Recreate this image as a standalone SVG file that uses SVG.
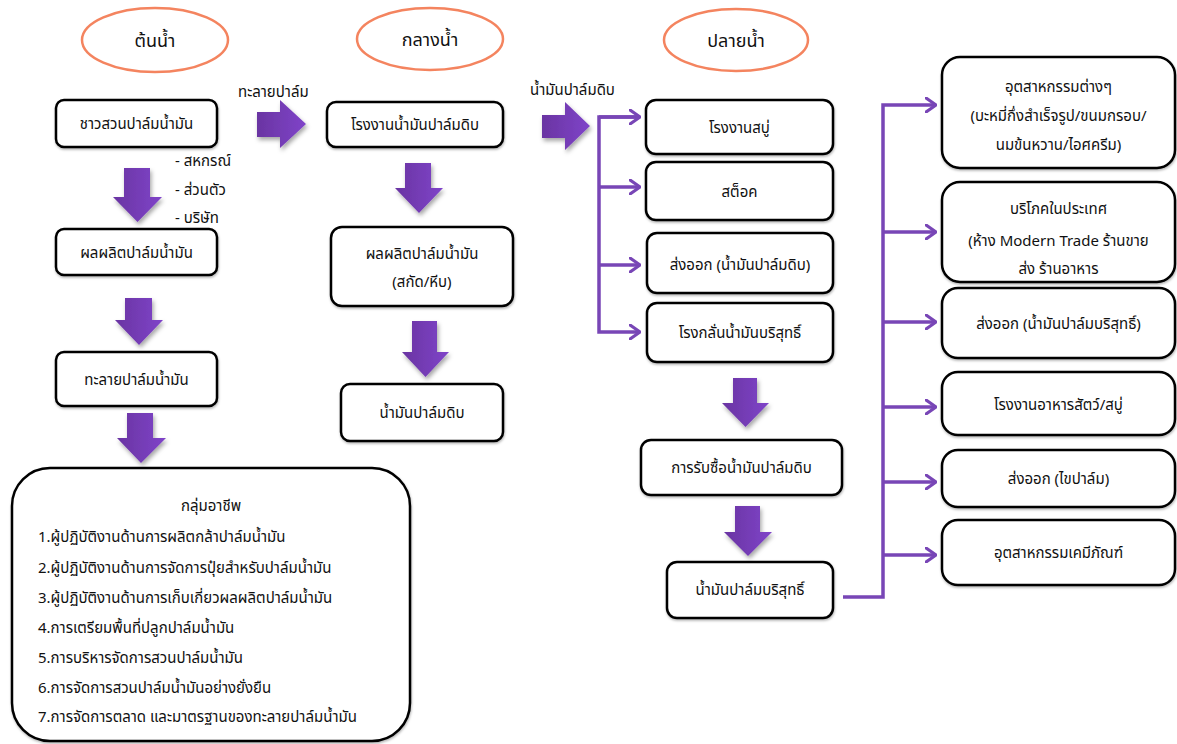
<svg xmlns="http://www.w3.org/2000/svg" width="1177" height="744" viewBox="0 0 1177 744">
<defs>
<linearGradient id="pg" x1="0" y1="0" x2="1" y2="0">
<stop offset="0" stop-color="#6a34a2"/>
<stop offset="1" stop-color="#7f44c9"/>
</linearGradient>
<filter id="sh" x="-30%" y="-30%" width="160%" height="160%">
<feDropShadow dx="1.5" dy="3" stdDeviation="2" flood-color="#000" flood-opacity="0.35"/>
</filter>
<filter id="bs" x="-10%" y="-10%" width="120%" height="130%">
<feDropShadow dx="0.5" dy="1.5" stdDeviation="1" flood-color="#000" flood-opacity="0.3"/>
</filter>
<marker id="ah" viewBox="0 0 12 16" refX="11" refY="8" markerWidth="12" markerHeight="16" markerUnits="userSpaceOnUse" orient="auto">
<path d="M1 1 L11 8 L1 15" fill="none" stroke="#7846b6" stroke-width="3.2" stroke-linecap="round" stroke-linejoin="round"/>
</marker>
</defs>
<style>
text{font-family:Tahoma,"Noto Sans Thai","Noto Sans","DejaVu Sans",sans-serif;fill:#111;font-size:15px}
.t{text-anchor:middle}
.h{font-size:18px;text-anchor:middle}
.ell{fill:#fff;stroke:#f4845f;stroke-width:2.5}
.box{fill:#fff;stroke:#000;stroke-width:2.5;filter:url(#bs)}
.arr{fill:url(#pg);filter:url(#sh)}
.con{fill:none;stroke:#7846b6;stroke-width:3.5;stroke-linejoin:miter}
</style>
<rect width="1177" height="744" fill="#fff"/>

<g id="h1"><ellipse class="ell" cx="155" cy="40" rx="73" ry="32"/><text class="h" x="155" y="47">ต้นน้ำ</text></g>
<g id="h2"><ellipse class="ell" cx="430" cy="39" rx="73" ry="31"/><text class="h" x="430" y="46">กลางน้ำ</text></g>
<g id="h3"><ellipse class="ell" cx="736" cy="40" rx="72" ry="31"/><text class="h" x="736" y="47">ปลายน้ำ</text></g>

<g id="thick-arrows">
<polygon class="arr" points="124,168 150,168 150,197 162,197 137.5,222 113,197 124,197"/>
<polygon class="arr" points="125,298 152,298 152,320 163,320 139,345 115,320 125,320"/>
<polygon class="arr" points="127,413 153,413 153,438 166,438 141,463 117,438 127,438"/>
<polygon class="arr" points="257,112 280,112 280,100 306,124 280,148 280,137 257,137"/>
<polygon class="arr" points="542,115 565,115 565,102 590,126 565,150 565,138 542,138"/>
<polygon class="arr" points="405,163 431,163 431,188 443,188 419,213 395,188 405,188"/>
<polygon class="arr" points="412,321 437,321 437,352 449,352 425.5,377 402,352 412,352"/>
<polygon class="arr" points="733,378 757,378 757,403 769,403 745.5,427 722,403 733,403"/>
<polygon class="arr" points="735,506 760,506 760,532 772,532 748,556 724,532 735,532"/>
</g>

<g id="connectors">
<path class="con" d="M640 117 H599 V332 H640" marker-end="url(#ah)"/>
<path class="con" d="M599 117 H640" marker-end="url(#ah)"/>
<path class="con" d="M599 187 H640" marker-end="url(#ah)"/>
<path class="con" d="M599 265 H640" marker-end="url(#ah)"/>
<path class="con" d="M843 597 H883 V105 H936" marker-end="url(#ah)"/>
<path class="con" d="M883 232 H936" marker-end="url(#ah)"/>
<path class="con" d="M883 322 H936" marker-end="url(#ah)"/>
<path class="con" d="M883 407 H936" marker-end="url(#ah)"/>
<path class="con" d="M883 482 H936" marker-end="url(#ah)"/>
<path class="con" d="M883 555 H936" marker-end="url(#ah)"/>
</g>

<g id="lbl-tl"><text x="238" y="97">ทะลายปาล์ม</text></g>
<g id="lbl-nm"><text x="530" y="95">น้ำมันปาล์มดิบ</text></g>
<g id="lbl-types">
<text x="175" y="166">- สหกรณ์</text>
<text x="175" y="195">- ส่วนตัว</text>
<text x="175" y="223">- บริษัท</text>
</g>

<g id="n-farmer"><rect class="box" x="56" y="100" width="161" height="47" rx="8"/><text class="t" x="136.5" y="129">ชาวสวนปาล์มน้ำมัน</text></g>
<g id="n-product"><rect class="box" x="56" y="229" width="161" height="46" rx="8"/><text class="t" x="136.5" y="258">ผลผลิตปาล์มน้ำมัน</text></g>
<g id="n-bunch"><rect class="box" x="56" y="352" width="161" height="54" rx="8"/><text class="t" x="136.5" y="385">ทะลายปาล์มน้ำมัน</text></g>
<g id="n-career"><rect class="box" x="12" y="468" width="398" height="273" rx="38"/>
<text class="t" x="211" y="511">กลุ่มอาชีพ</text>
<text x="38" y="542">1.ผู้ปฏิบัติงานด้านการผลิตกล้าปาล์มน้ำมัน</text>
<text x="38" y="573">2.ผู้ปฏิบัติงานด้านการจัดการปุ๋ยสำหรับปาล์มน้ำมัน</text>
<text x="38" y="603">3.ผู้ปฏิบัติงานด้านการเก็บเกี่ยวผลผลิตปาล์มน้ำมัน</text>
<text x="38" y="633">4.การเตรียมพื้นที่ปลูกปาล์มน้ำมัน</text>
<text x="38" y="663">5.การบริหารจัดการสวนปาล์มน้ำมัน</text>
<text x="38" y="693">6.การจัดการสวนปาล์มน้ำมันอย่างยั่งยืน</text>
<text x="38" y="722">7.การจัดการตลาด และมาตรฐานของทะลายปาล์มน้ำมัน</text>
</g>

<g id="n-mill"><rect class="box" x="327" y="102" width="176" height="45" rx="9"/><text class="t" x="415" y="130">โรงงานน้ำมันปาล์มดิบ</text></g>
<g id="n-extract"><rect class="box" x="331" y="227" width="182" height="79" rx="11"/><text class="t" x="422" y="259">ผลผลิตปาล์มน้ำมัน</text><text class="t" x="422" y="287">(สกัด/หีบ)</text></g>
<g id="n-cpo"><rect class="box" x="341" y="384" width="162" height="57" rx="9"/><text class="t" x="422" y="418">น้ำมันปาล์มดิบ</text></g>

<g id="n-soap"><rect class="box" x="646" y="100" width="187" height="54" rx="10"/><text class="t" x="739.5" y="133">โรงงานสบู่</text></g>
<g id="n-stock"><rect class="box" x="646" y="162" width="187" height="58" rx="10"/><text class="t" x="739.5" y="197">สต็อค</text></g>
<g id="n-export-cpo"><rect class="box" x="647" y="233" width="186" height="60" rx="10"/><text class="t" x="740" y="270">ส่งออก (น้ำมันปาล์มดิบ)</text></g>
<g id="n-refinery"><rect class="box" x="647" y="303" width="186" height="59" rx="10"/><text class="t" x="740" y="338">โรงกลั่นน้ำมันบริสุทธิ์</text></g>
<g id="n-buy"><rect class="box" x="641" y="440" width="201" height="55" rx="10"/><text class="t" x="741.5" y="473">การรับซื้อน้ำมันปาล์มดิบ</text></g>
<g id="n-pure"><rect class="box" x="667" y="562" width="166" height="56" rx="10"/><text class="t" x="750" y="595">น้ำมันปาล์มบริสุทธิ์</text></g>

<g id="n-ind"><rect class="box" x="942" y="57" width="233" height="111" rx="18"/>
<text class="t" x="1058.5" y="92">อุตสาหกรรมต่างๆ</text>
<text class="t" x="1058.5" y="121">(บะหมี่กึ่งสำเร็จรูป/ขนมกรอบ/</text>
<text class="t" x="1058.5" y="150">นมข้นหวาน/ไอศครีม)</text></g>
<g id="n-dom"><rect class="box" x="942" y="182" width="233" height="100" rx="18"/>
<text class="t" x="1058.5" y="214">บริโภคในประเทศ</text>
<text class="t" x="1058.5" y="246">(ห้าง Modern Trade ร้านขาย</text>
<text class="t" x="1058.5" y="274">ส่ง ร้านอาหาร</text></g>
<g id="n-export-pure"><rect class="box" x="942" y="288" width="233" height="70" rx="16"/><text class="t" x="1058.5" y="329">ส่งออก (น้ำมันปาล์มบริสุทธิ์)</text></g>
<g id="n-feed"><rect class="box" x="942" y="372" width="233" height="63" rx="16"/><text class="t" x="1058.5" y="410">โรงงานอาหารสัตว์/สบู่</text></g>
<g id="n-export-wax"><rect class="box" x="942" y="450" width="233" height="57" rx="16"/><text class="t" x="1058.5" y="484">ส่งออก (ไขปาล์ม)</text></g>
<g id="n-chem"><rect class="box" x="942" y="520" width="233" height="65" rx="16"/><text class="t" x="1058.5" y="558">อุตสาหกรรมเคมีภัณฑ์</text></g>
</svg>
